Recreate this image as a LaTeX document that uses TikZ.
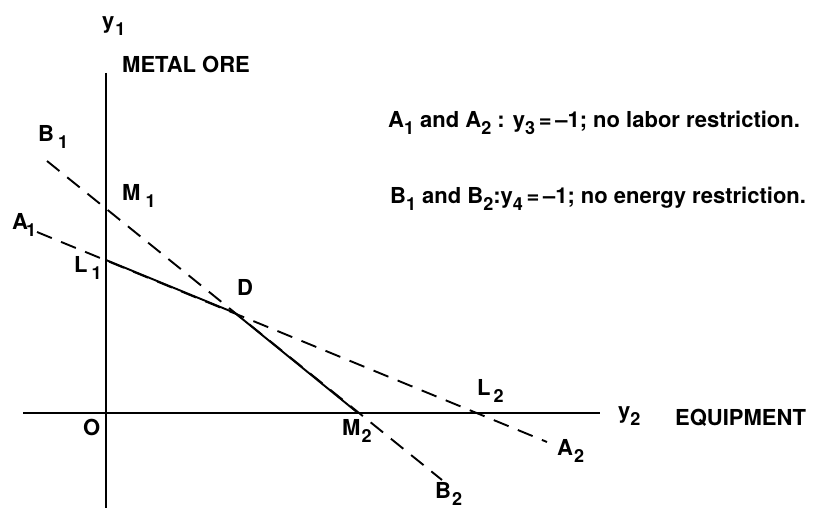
\documentclass[tikz,border=0pt]{standalone}
\usepackage{fontspec}
\setmainfont{TeX Gyre Heros}
\newcommand{\lowsub}[1]{\raisebox{-7pt}{\fontsize{18}{18}\selectfont #1}}
\begin{document}
\begin{tikzpicture}[x=1pt,y=-1pt,
  font=\fontsize{22}{26}\selectfont\bfseries,
  axis/.style={line width=2.2pt},
  solidline/.style={line width=1.9pt},
  dashline/.style={line width=1.9pt, dash pattern=on 16pt off 10pt},
  lbl/.style={inner sep=0pt, anchor=base west}]
\useasboundingbox (0,0) rectangle (819,508);
% points
\coordinate (ytop) at (106,73);
\coordinate (ybot) at (106,508);
\coordinate (xl) at (23,413);
\coordinate (xr) at (600,413);
\coordinate (L1) at (106,260);
\coordinate (D) at (235,313);
\coordinate (M2) at (358,413);
\coordinate (Aa) at (37,232);
\coordinate (Ab) at (547,442);
\coordinate (Ba) at (47,161);
\coordinate (Bb) at (442,480);
% axes
\draw[axis] (ytop) -- (ybot);
\draw[axis] (xl) -- (xr);
% constraint lines
\draw[dashline] (Aa) -- (Ab);
\draw[dashline] (Ba) -- (Bb);
\draw[solidline] (L1) -- (D) -- (M2);
% labels
\node[lbl] (ly1) at (102,29) {y\hspace{1pt}\lowsub{1}};
\node[lbl] (lmo) at (122,73) {METAL ORE};
\node[lbl] (lB1) at (38,142) {B\hspace{4pt}\lowsub{1}};
\node[lbl] (lM1) at (122,200) {M\hspace{5pt}\lowsub{1}};
\node[lbl] (lA1) at (12,229) {A\hspace{-2pt}\lowsub{1}};
\node[lbl] (lL1) at (74,272) {L\hspace{4pt}\lowsub{1}};
\node[lbl] (lD) at (237,295) {D};
\node[lbl] (lO) at (83,435) {O};
\node[lbl] (lM2) at (342,435) {M\hspace{1pt}\lowsub{2}};
\node[lbl] (lL2) at (477,395) {L\hspace{3pt}\lowsub{2}};
\node[lbl] (ly2) at (618,418) {y\lowsub{2}};
\node[lbl] (leq) at (675,425) {EQUIPMENT};
\node[lbl] (lA2) at (557,455) {A\hspace{1pt}\lowsub{2}};
\node[lbl] (lB2) at (435,498) {B\hspace{1pt}\lowsub{2}};
\node[lbl] (leg1) at (388,128) {A\lowsub{1} and A\lowsub{2} : y\lowsub{3}\,=\,–1; no labor restriction.};
\node[lbl] (leg2) at (390,203) {B\lowsub{1} and B\lowsub{2}:y\lowsub{4}\,=\,–1; no energy restriction.};
\end{tikzpicture}
\end{document}
